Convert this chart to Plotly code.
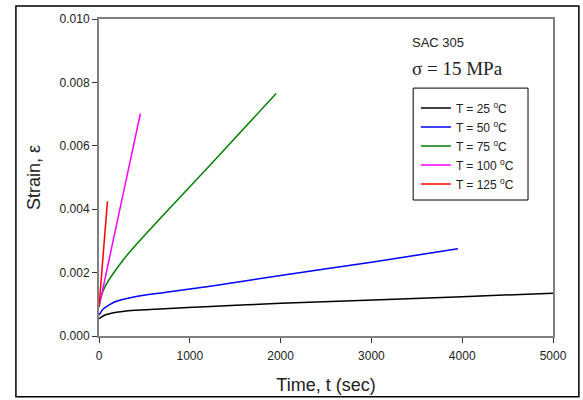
import plotly.graph_objects as go

# --- Données ---
t_25 = [0, 50, 176, 396, 719, 1225, 2000, 3099, 4000, 5000]
s_25 = [0.00055, 0.00064, 0.00074, 0.00081, 0.00086, 0.00093, 0.00103, 0.00114, 0.00124, 0.00135]

t_50 = [0, 50, 176, 396, 719, 1225, 2000, 3000, 3953]
s_50 = [0.00066, 0.00086, 0.00108, 0.00124, 0.00137, 0.00157, 0.00191, 0.00233, 0.00275]

t_75 = [0, 20, 66, 176, 286, 396, 719, 1194, 1951]
s_75 = [0.00092, 0.00122, 0.00156, 0.00205, 0.00247, 0.00284, 0.00385, 0.00530, 0.00765]

t_100 = [0, 250, 456]
s_100 = [0.00092, 0.00427, 0.00702]

t_125 = [0, 93]
s_125 = [0.00092, 0.00425]

series = [
    ("T = 25 <sup>o</sup>C", t_25, s_25, "black"),
    ("T = 50 <sup>o</sup>C", t_50, s_50, "#0000ff"),
    ("T = 75 <sup>o</sup>C", t_75, s_75, "#008000"),
    ("T = 100 <sup>o</sup>C", t_100, s_100, "#ff00ff"),
    ("T = 125 <sup>o</sup>C", t_125, s_125, "#ff0000"),
]

font_fam = "Arial, Liberation Sans, sans-serif"

fig = go.Figure()
for name, t, s, col in series:
    fig.add_trace(go.Scatter(
        x=t, y=s, name=name, mode="lines",
        line=dict(color=col, width=1.5, shape="spline", smoothing=0.6),
    ))

axis_style = dict(
    showline=True, linecolor="#808080", linewidth=2, mirror=True,
    ticks="outside", ticklen=5, tickcolor="#333333", tickwidth=1,
    showgrid=False, zeroline=False, automargin=False,
    tickfont=dict(size=12, color="#222222", family=font_fam),
)

fig.update_layout(
    width=583, height=400,
    margin=dict(l=99, r=30, t=19, b=64),
    paper_bgcolor="white", plot_bgcolor="white",
    font=dict(family=font_fam, color="#222222"),
    xaxis=dict(
        range=[0, 5000], dtick=1000, ticklabelstandoff=3,
        title=dict(text="Time, t (sec)", font=dict(size=18), standoff=16),
        **axis_style,
    ),
    yaxis=dict(
        range=[0, 0.010], dtick=0.002, tickformat=".3f",
        title=dict(text="Strain, ε", font=dict(size=18), standoff=14),
        **axis_style,
    ),
    showlegend=True,
    legend=dict(
        x=0.698, y=0.765, xanchor="left", yanchor="top",
        bgcolor="rgba(0,0,0,0)", borderwidth=0,
        font=dict(size=12, family=font_fam, color="#222222"),
        tracegroupgap=0,
    ),
    shapes=[
        # cadre extérieur
        dict(type="rect", xref="paper", yref="paper",
             x0=-0.183, x1=1.057, y0=-0.192, y1=1.041,
             line=dict(color="black", width=1.5)),
        # cadre de la légende
        dict(type="rect", xref="paper", yref="paper",
             x0=0.692, x1=0.945, y0=0.429, y1=0.782,
             line=dict(color="black", width=1)),
    ],
    annotations=[
        dict(text="SAC 305", xref="paper", yref="paper", x=0.686, y=0.927,
             xanchor="left", yanchor="middle", showarrow=False,
             font=dict(size=13, family=font_fam, color="#222222")),
        dict(text="σ = 15 MPa", xref="paper", yref="paper", x=0.686, y=0.845,
             xanchor="left", yanchor="middle", showarrow=False,
             font=dict(size=19, family="Times New Roman, Liberation Serif, serif", color="#222222")),
    ],
)

# pas de marge autour de la figure dans la page
fig.write_html("out.html", config={"displayModeBar": False},
               post_script="document.body.style.margin='0';")
